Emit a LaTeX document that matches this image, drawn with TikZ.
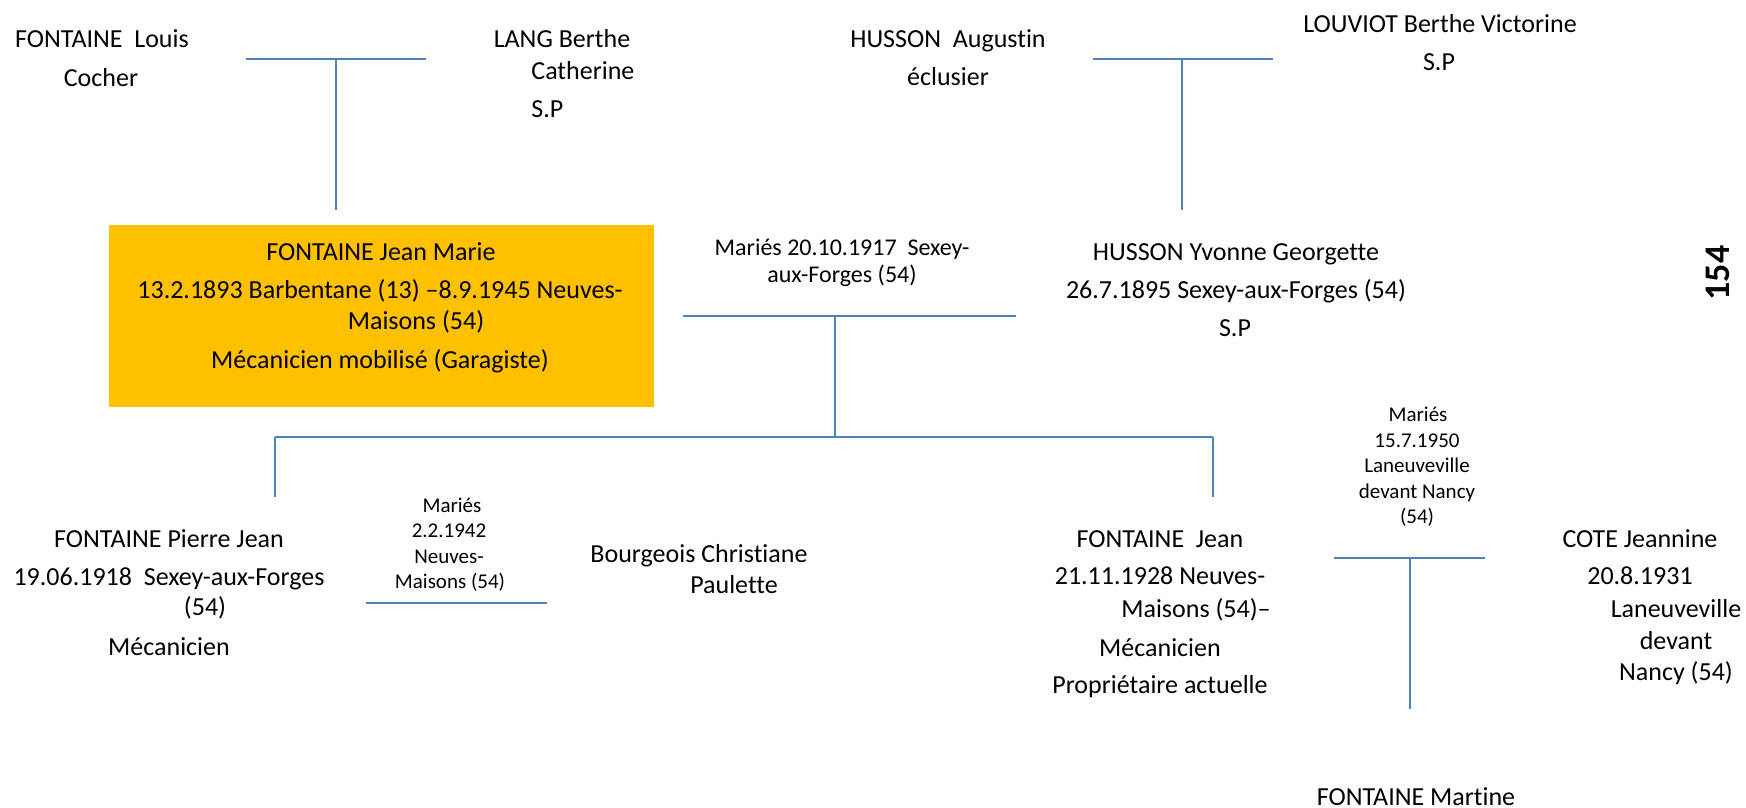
\documentclass[tikz,border=0pt]{standalone}
\usepackage{fontspec}
\setmainfont{Carlito}[Ligatures={NoCommon}]
\definecolor{linkblue}{HTML}{4F81BD}
\definecolor{boxorange}{HTML}{FFC000}
\tikzset{
  txt/.style={inner sep=0pt, anchor=base, font=\fontsize{13}{15}\selectfont},
  smalltxt/.style={inner sep=0pt, anchor=base, font=\fontsize{12}{14}\selectfont},
  tinytxt/.style={inner sep=0pt, anchor=base, font=\fontsize{10.5}{12}\selectfont},
  hlink/.style={draw=linkblue, line width=1.4pt},
  vlink/.style={draw=linkblue, line width=0.9pt},
}
\begin{document}
\begin{tikzpicture}[x=0.5pt, y=-0.5pt]
\useasboundingbox (0,0) rectangle (1746,808);

% highlighted box (545 x 182 px)
\node[fill=boxorange, inner sep=0pt, minimum width=272.5pt, minimum height=91pt, anchor=north west] (box) at (109,225) {};

% --- top left couple
\node[txt] (louis1) at (102,48) {FONTAINE\ \ Louis};
\node[txt] (louis2) at (101,87) {Cocher};
\node[txt] (lang1) at (562,48) {LANG Berthe};
\node[txt, anchor=base west] (lang2) at (531,80) {Catherine};
\node[txt, anchor=base west] (lang3) at (531,118) {S.P};

% --- top right couple
\node[txt] (hus1) at (948,48) {HUSSON\ \ Augustin};
\node[txt] (hus2) at (948,86) {éclusier};
\node[txt] (lou1) at (1440,33) {LOUVIOT Berthe Victorine};
\node[txt] (lou2) at (1439,71) {S.P};

% --- highlighted person
\node[txt] (jm1) at (381,260) {FONTAINE Jean Marie};
\node[txt] (jm2) at (380,298) {13.2.1893 Barbentane (13) –8.9.1945 Neuves-};
\node[txt] (jm3) at (416,329) {Maisons (54)};
\node[txt] (jm4) at (380,368) {Mécanicien mobilisé (Garagiste)};

% --- wife
\node[txt] (yv1) at (1236,260) {HUSSON Yvonne Georgette};
\node[txt] (yv2) at (1236,298) {26.7.1895 Sexey-aux-Forges (54)};
\node[txt] (yv3) at (1235,336) {S.P};

% --- marriage 1917
\node[smalltxt] (m1a) at (842,256) {Mariés 20.10.1917\ \ Sexey-};
\node[smalltxt] (m1b) at (842,282) {aux-Forges (54)};

% --- page number
\node[inner sep=0pt, rotate=90, font=\fontsize{18}{20}\selectfont\bfseries] (page) at (1718,273) {154};

% --- Pierre
\node[txt] (pj1) at (169,547) {FONTAINE Pierre Jean};
\node[txt] (pj2) at (169,585) {19.06.1918\ \ Sexey-aux-Forges};
\node[txt] (pj3) at (205,615) {(54)};
\node[txt] (pj4) at (169,655) {Mécanicien};

% --- marriage 1942
\node[tinytxt] (m2a) at (452,512) {Mariés};
\node[tinytxt] (m2b) at (449,537) {2.2.1942};
\node[tinytxt] (m2c) at (449,563) {Neuves-};
\node[tinytxt] (m2d) at (450,588) {Maisons (54)};

% --- Bourgeois
\node[txt] (bc1) at (699,562) {Bourgeois Christiane};
\node[txt] (bc2) at (734,593) {Paulette};

% --- Jean
\node[txt] (fj1) at (1160,547) {FONTAINE\ \ Jean};
\node[txt] (fj2) at (1160,584) {21.11.1928 Neuves-};
\node[txt] (fj3) at (1196,617) {Maisons (54)–};
\node[txt] (fj4) at (1160,656) {Mécanicien};
\node[txt] (fj5) at (1160,693) {Propriétaire actuelle};

% --- marriage 1950
\node[tinytxt] (m3a) at (1418,421) {Mariés};
\node[tinytxt] (m3b) at (1417,447) {15.7.1950};
\node[tinytxt] (m3c) at (1417,472) {Laneuveville};
\node[tinytxt] (m3d) at (1417,498) {devant Nancy};
\node[tinytxt] (m3e) at (1417,523) {(54)};

% --- Cote
\node[txt] (cj1) at (1640,547) {COTE Jeannine};
\node[txt] (cj2) at (1640,584) {20.8.1931};
\node[txt] (cj3) at (1676,617) {Laneuveville};
\node[txt] (cj4) at (1676,649) {devant};
\node[txt] (cj5) at (1676,680) {Nancy (54)};

% --- Martine
\node[txt] (fm1) at (1416,805) {FONTAINE Martine};

% --- connector coordinates
\coordinate (a1) at (246,59);  \coordinate (a2) at (426,59);
\coordinate (a3) at (336,59);  \coordinate (a4) at (336,210);
\coordinate (b1) at (1093,59); \coordinate (b2) at (1273,59);
\coordinate (b3) at (1182,59); \coordinate (b4) at (1182,210);
\coordinate (c1) at (683,316); \coordinate (c2) at (1016,316);
\coordinate (c3) at (835,316); \coordinate (c4) at (835,437);
\coordinate (d1) at (275,437); \coordinate (d2) at (1213,437);
\coordinate (d3) at (275,497); \coordinate (d4) at (1213,497);
\coordinate (e1) at (366,603); \coordinate (e2) at (547,603);
\coordinate (f1) at (1334,558); \coordinate (f2) at (1485,558);
\coordinate (f3) at (1410,558); \coordinate (f4) at (1410,709);

\draw[hlink] (a1) -- (a2);
\draw[vlink] (a3) -- (a4);
\draw[hlink] (b1) -- (b2);
\draw[vlink] (b3) -- (b4);
\draw[hlink] (c1) -- (c2);
\draw[vlink] (c3) -- (c4);
\draw[hlink] (d1) -- (d2);
\draw[vlink] (d1) -- (d3);
\draw[vlink] (d2) -- (d4);
\draw[hlink] (e1) -- (e2);
\draw[hlink] (f1) -- (f2);
\draw[vlink] (f3) -- (f4);
\end{tikzpicture}
\end{document}
